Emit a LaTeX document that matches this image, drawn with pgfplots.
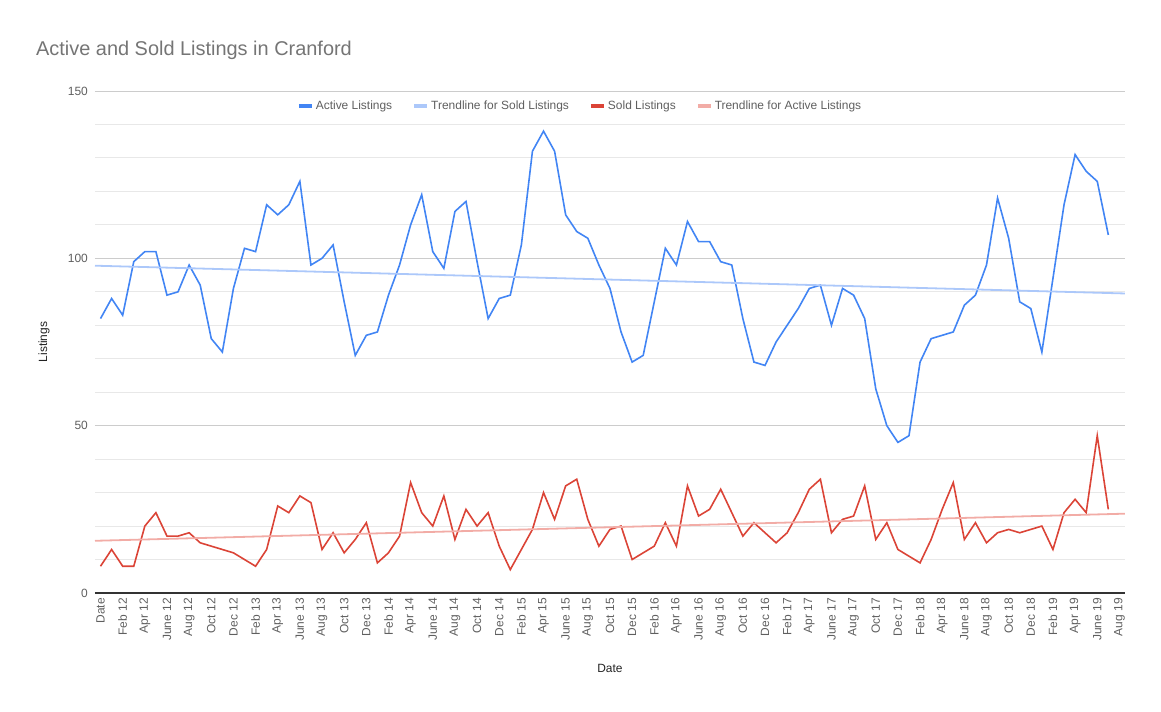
\documentclass[border=0pt]{standalone}
\usepackage{fontspec}
\setmainfont{Liberation Sans}
\usepackage{pgfplots}
\pgfplotsset{compat=1.18}
\definecolor{actblue}{RGB}{66,133,244}
\definecolor{soldred}{RGB}{219,68,55}
\definecolor{trblue}{RGB}{172,200,250}
\definecolor{trred}{RGB}{242,172,166}
\definecolor{titlegray}{RGB}{117,117,117}
\definecolor{tickgray}{RGB}{95,95,95}
\definecolor{labgray}{RGB}{34,34,34}
\definecolor{majgrid}{RGB}{204,204,204}
\definecolor{mingrid}{RGB}{232,232,232}
\begin{document}
\begin{tikzpicture}
\useasboundingbox (-95bp,-119bp) rectangle (1066bp,593bp);
\begin{axis}[
  at={(0,0)}, anchor=south west,
  scale only axis, width=1030bp, height=502bp,
  xmin=-0.5, xmax=92.5, ymin=0, ymax=150,
  ytick={0,50,100,150}, minor y tick num=4,
  ymajorgrids, yminorgrids,
  major grid style={draw=majgrid, line width=0.9bp},
  minor grid style={draw=mingrid, line width=0.9bp},
  axis line style={draw=none}, tick style={draw=none},
  extra y ticks={0}, extra y tick labels={},
  extra y tick style={grid=major, major grid style={draw=black!80, line width=1.3bp}},
  xtick={0,2,...,92},
  xticklabels={Date,Feb 12,Apr 12,June 12,Aug 12,Oct 12,Dec 12,
    Feb 13,Apr 13,June 13,Aug 13,Oct 13,Dec 13,
    Feb 14,Apr 14,June 14,Aug 14,Oct 14,Dec 14,
    Feb 15,Apr 15,June 15,Aug 15,Oct 15,Dec 15,
    Feb 16,Apr 16,June 16,Aug 16,Oct 16,Dec 16,
    Feb 17,Apr 17,June 17,Aug 17,Oct 17,Dec 17,
    Feb 18,Apr 18,June 18,Aug 18,Oct 18,Dec 18,
    Feb 19,Apr 19,June 19,Aug 19},
  xticklabel style={rotate=90, anchor=east, inner sep=0pt, xshift=-5bp,
    font=\fontsize{12}{14}\selectfont, text=tickgray},
  yticklabel style={anchor=east, inner sep=0pt, xshift=-7bp,
    font=\fontsize{12}{14}\selectfont, text=tickgray},
  /pgf/number format/assume math mode=true,
  xlabel={Date}, ylabel={Listings},
  xlabel style={at={(axis description cs:0.5,0)}, anchor=center, yshift=-75bp,
    font=\fontsize{12}{14}\selectfont, text=labgray},
  ylabel style={at={(axis description cs:0,0.5)}, anchor=center, yshift=51bp,
    font=\fontsize{12}{14}\selectfont, text=labgray},
  legend columns=4,
  legend style={at={(rel axis cs:0.4709,0.970)}, anchor=center, draw=none, fill=none,
    font=\fontsize{12}{14}\selectfont, text=tickgray,
    /tikz/every even column/.append style={column sep=18bp}},
  legend image code/.code={\draw[#1, line width=4bp] (0bp,0bp) -- (13bp,0bp);},
]
\addplot[actblue, line width=1.6bp] coordinates {
(0,82)(1,88)(2,83)(3,99)(4,102)(5,102)(6,89)(7,90)(8,98)(9,92)
(10,76)(11,72)(12,91)(13,103)(14,102)(15,116)(16,113)(17,116)(18,123)(19,98)
(20,100)(21,104)(22,87)(23,71)(24,77)(25,78)(26,89)(27,98)(28,110)(29,119)
(30,102)(31,97)(32,114)(33,117)(34,99)(35,82)(36,88)(37,89)(38,104)(39,132)
(40,138)(41,132)(42,113)(43,108)(44,106)(45,98)(46,91)(47,78)(48,69)(49,71)
(50,87)(51,103)(52,98)(53,111)(54,105)(55,105)(56,99)(57,98)(58,82)(59,69)
(60,68)(61,75)(62,80)(63,85)(64,91)(65,92)(66,80)(67,91)(68,89)(69,82)
(70,61)(71,50)(72,45)(73,47)(74,69)(75,76)(76,77)(77,78)(78,86)(79,89)
(80,98)(81,118)(82,106)(83,87)(84,85)(85,72)(86,94)(87,116)(88,131)(89,126)
(90,123)(91,107)};
\addlegendentry{Active Listings}
\addplot[trblue, line width=1.8bp] coordinates {(-0.5,97.8)(92.5,89.5)};
\addlegendentry{Trendline for Sold Listings}
\addplot[soldred, line width=1.6bp] coordinates {
(0,8)(1,13)(2,8)(3,8)(4,20)(5,24)(6,17)(7,17)(8,18)(9,15)
(10,14)(11,13)(12,12)(13,10)(14,8)(15,13)(16,26)(17,24)(18,29)(19,27)
(20,13)(21,18)(22,12)(23,16)(24,21)(25,9)(26,12)(27,17)(28,33)(29,24)
(30,20)(31,29)(32,16)(33,25)(34,20)(35,24)(36,14)(37,7)(38,13)(39,19)
(40,30)(41,22)(42,32)(43,34)(44,22)(45,14)(46,19)(47,20)(48,10)(49,12)
(50,14)(51,21)(52,14)(53,32)(54,23)(55,25)(56,31)(57,24)(58,17)(59,21)
(60,18)(61,15)(62,18)(63,24)(64,31)(65,34)(66,18)(67,22)(68,23)(69,32)
(70,16)(71,21)(72,13)(73,11)(74,9)(75,16)(76,25)(77,33)(78,16)(79,21)
(80,15)(81,18)(82,19)(83,18)(84,19)(85,20)(86,13)(87,24)(88,28)(89,24)
(90,47)(91,25)};
\addlegendentry{Sold Listings}
\addplot[trred, line width=1.8bp] coordinates {(-0.5,15.6)(92.5,23.7)};
\addlegendentry{Trendline for Active Listings}
\end{axis}
\node[anchor=base west, inner sep=0pt, font=\fontsize{20}{24}\selectfont, text=titlegray]
  at (-59bp,537bp) {Active and Sold Listings in Cranford};
\end{tikzpicture}
\end{document}
